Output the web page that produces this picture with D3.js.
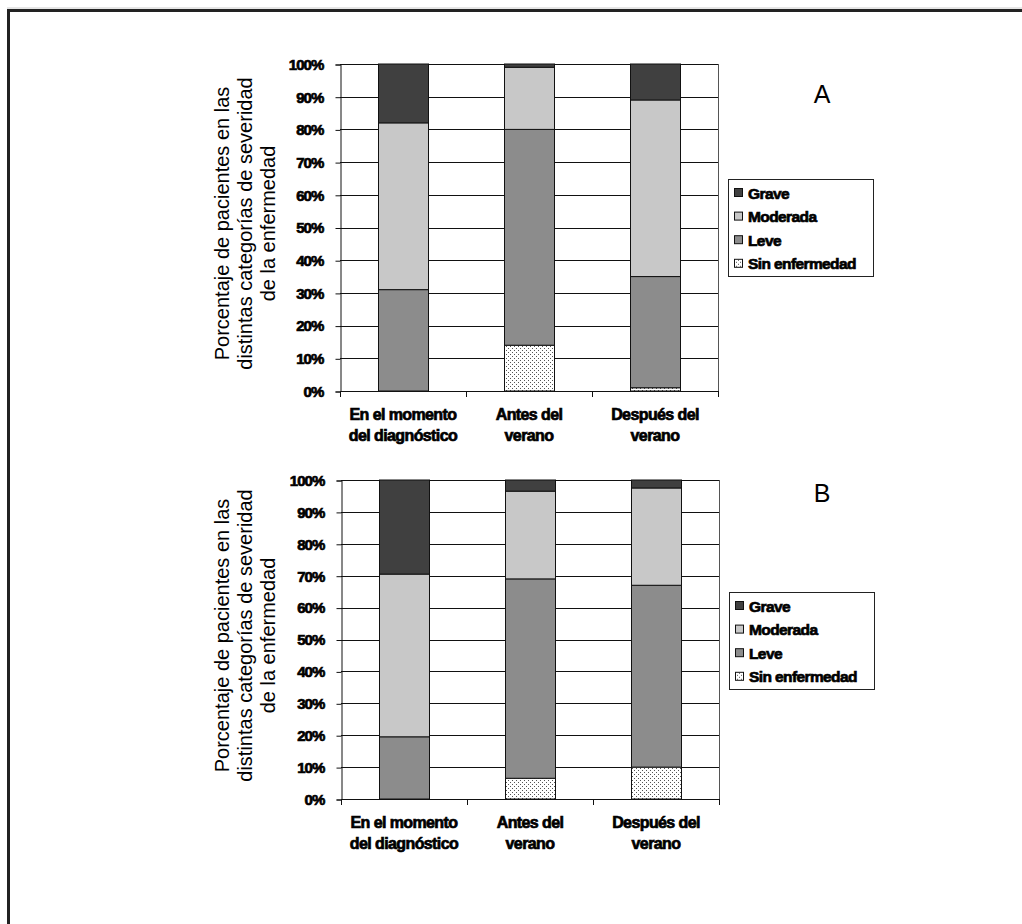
<!DOCTYPE html>
<html>
<head>
<meta charset="utf-8">
<script src="https://cdn.jsdelivr.net/npm/d3@7"></script>
<style>
  body { margin: 0; background: #fff; }
  svg { display: block; }
</style>
</head>
<body>
<svg width="1022" height="924"></svg>
<script>
    // categorias del eje x (dos lineas cada una)
    let categories = ["momento", "antes", "despues"];
    let catLabels = [["En el momento", "del diagnóstico"], ["Antes del", "verano"], ["Después del", "verano"]];
    let seriesNames = ["Sin enfermedad", "Leve", "Moderada", "Grave"];
    let yTicks = [0, 10, 20, 30, 40, 50, 60, 70, 80, 90, 100];
    let titleLines = ["Porcentaje de pacientes en las", "distintas categorías de severidad", "de la enfermedad"];

    // panel A
    let sinA = [0, 14, 1];
    let leveA = [31, 66, 34];
    let moderadaA = [51, 19, 54];
    let graveA = [18, 1, 11];

    // panel B
    let sinB = [0, 6.5, 10];
    let leveB = [19.5, 62.5, 57];
    let moderadaB = [51, 27.5, 30.5];
    let graveB = [29.5, 3.5, 2.5];

    let colors = { "Sin enfermedad": "url(#dots)", "Leve": "#8c8c8c", "Moderada": "#c8c8c8", "Grave": "#404040" };
    let boldFont = "Liberation Sans, Arial, sans-serif";

    let svg = d3.select("svg");

    // patron de puntos para "Sin enfermedad"
    let pat = svg.append("defs").append("pattern")
        .attr("id", "dots")
        .attr("patternUnits", "userSpaceOnUse")
        .attr("width", 4).attr("height", 4)
    pat.append("rect").attr("width", 4).attr("height", 4).attr("fill", "#fff")
    pat.append("rect").attr("x", 0).attr("y", 0).attr("width", 1).attr("height", 1).attr("fill", "#555")
    pat.append("rect").attr("x", 2).attr("y", 2).attr("width", 1).attr("height", 1).attr("fill", "#555")

    // texto en negrita "gruesa" como en el original
    function heavy(sel, size, spacing) {
        sel.style("font-family", boldFont)
            .style("font-weight", "bold")
            .style("font-size", size + "px")
            .style("letter-spacing", spacing + "px")
            .style("fill", "#000")
            .style("stroke", "#000")
            .style("stroke-width", 0.7)
    }

    // marco exterior
    svg.append("line").attr("x1", 7).attr("x2", 1022).attr("y1", 8).attr("y2", 8)
        .style("stroke", "#ccc").style("stroke-width", 1)
    svg.append("path")
        .attr("d", "M8.5,924 V10.5 H1022")
        .style("fill", "none").style("stroke", "#222").style("stroke-width", 3)

    function drawPanel(p) {
        let rows = categories.map((c, i) => ({
            cat: c,
            "Sin enfermedad": p.sin[i],
            "Leve": p.leve[i],
            "Moderada": p.moderada[i],
            "Grave": p.grave[i]
        }))

        let x = d3.scaleBand()
            .domain(categories)
            .range([p.left, p.right])
            .paddingInner(0.6)
            .paddingOuter(0.3)

        let y = d3.scaleLinear()
            .domain([0, 100])
            .range([p.bottom, p.top])

        let g = svg.append("g")

        // lineas de cuadricula
        g.append("g")
            .selectAll("line")
            .data(yTicks.slice(1))
            .join("line")
            .attr("x1", p.left).attr("x2", p.right)
            .attr("y1", d => Math.round(y(d)) + 0.5).attr("y2", d => Math.round(y(d)) + 0.5)
            .style("stroke", "#111").style("stroke-width", 1)

        // borde derecho
        g.append("line")
            .attr("x1", p.right + 0.5).attr("x2", p.right + 0.5)
            .attr("y1", p.top).attr("y2", p.bottom)
            .style("stroke", "#555").style("stroke-width", 1)

        let stack = d3.stack().keys(seriesNames)
        let layers = stack(rows)

        g.append("g")
            .selectAll("g")
            .data(layers)
            .join("g")
            .attr("fill", d => colors[d.key])
            .selectAll("rect")
            .data(d => d.filter(s => s[1] - s[0] > 0))
            .join("rect")
            .attr("x", d => Math.round(x(d.data.cat)) + 0.5)
            .attr("width", Math.round(x.bandwidth()))
            .attr("y", d => y(d[1]))
            .attr("height", d => y(d[0]) - y(d[1]))
            .style("stroke", "#111").style("stroke-width", 1)

        // eje y
        let yAxis = d3.axisLeft(y)
            .tickValues(yTicks)
            .tickFormat(d => d + "%")
            .tickSize(5)
            .tickPadding(12)
        let ya = g.append("g")
            .attr("transform", `translate(${p.left + 0.5}, 0.5)`)
            .call(yAxis)
        ya.select(".domain").style("stroke", "#111")
        ya.selectAll(".tick line").style("stroke", "#111")
        ya.selectAll("text").call(heavy, 15, -0.9)

        // eje x: marcas entre categorias
        let bounds = d3.range(categories.length + 1).map(i => p.left + i * (p.right - p.left) / categories.length)
        g.append("line")
            .attr("x1", p.left).attr("x2", p.right + 1)
            .attr("y1", p.bottom + 0.5).attr("y2", p.bottom + 0.5)
            .style("stroke", "#111")
        g.append("g")
            .selectAll("line")
            .data(bounds)
            .join("line")
            .attr("x1", d => Math.round(d) + 0.5).attr("x2", d => Math.round(d) + 0.5)
            .attr("y1", p.bottom).attr("y2", p.bottom + 6)
            .style("stroke", "#111")

        g.append("g")
            .selectAll("text")
            .data(categories)
            .join("text")
            .attr("x", d => x(d) + x.bandwidth() / 2)
            .attr("y", p.bottom + 29)
            .attr("text-anchor", "middle")
            .call(heavy, 16, -0.6)
            .selectAll("tspan")
            .data((d, i) => catLabels[i])
            .join("tspan")
            .attr("x", function() { return d3.select(this.parentNode).attr("x") })
            .attr("dy", (d, i) => i == 0 ? 0 : 21)
            .text(d => d)

        // titulo eje y
        let cy = (p.top + p.bottom) / 2 - 4
        g.append("g")
            .selectAll("text")
            .data(titleLines)
            .join("text")
            .attr("transform", (d, i) => `translate(${229 + i * 23}, ${cy}) rotate(-90)`)
            .attr("text-anchor", "middle")
            .style("font-family", "Liberation Sans, Arial, sans-serif")
            .style("font-size", "20px")
            .style("fill", "#000")
            .text(d => d)

        // letra del panel
        g.append("text")
            .attr("x", 822).attr("y", p.letterY)
            .attr("text-anchor", "middle")
            .style("font-family", "Liberation Sans, Arial, sans-serif")
            .style("font-size", "25px")
            .text(p.letter)

        // leyenda
        let lg = g.append("g")
        lg.append("rect")
            .attr("x", p.legX + 0.5).attr("y", p.legY + 0.5)
            .attr("width", 145).attr("height", 97)
            .style("fill", "#fff").style("stroke", "#222").style("stroke-width", 1)
        let items = lg.selectAll("g")
            .data(seriesNames.slice().reverse())
            .join("g")
            .attr("transform", (d, i) => `translate(${p.legX + 6}, ${p.legY + 14 + i * 23.6})`)
        items.append("rect")
            .attr("x", 0.5).attr("y", -4.5)
            .attr("width", 8).attr("height", 8)
            .attr("fill", d => colors[d])
            .style("stroke", "#111").style("stroke-width", 1)
        items.append("text")
            .attr("x", 14).attr("y", 5.5)
            .call(heavy, 15.5, -0.6)
            .text(d => d)
    }

    drawPanel({ sin: sinA, leve: leveA, moderada: moderadaA, grave: graveA,
        left: 340, right: 718, top: 64, bottom: 391,
        letter: "A", letterY: 103, legX: 728, legY: 179 })

    drawPanel({ sin: sinB, leve: leveB, moderada: moderadaB, grave: graveB,
        left: 341, right: 719, top: 480, bottom: 799,
        letter: "B", letterY: 502, legX: 729, legY: 592 })
</script>
</body>
</html>
